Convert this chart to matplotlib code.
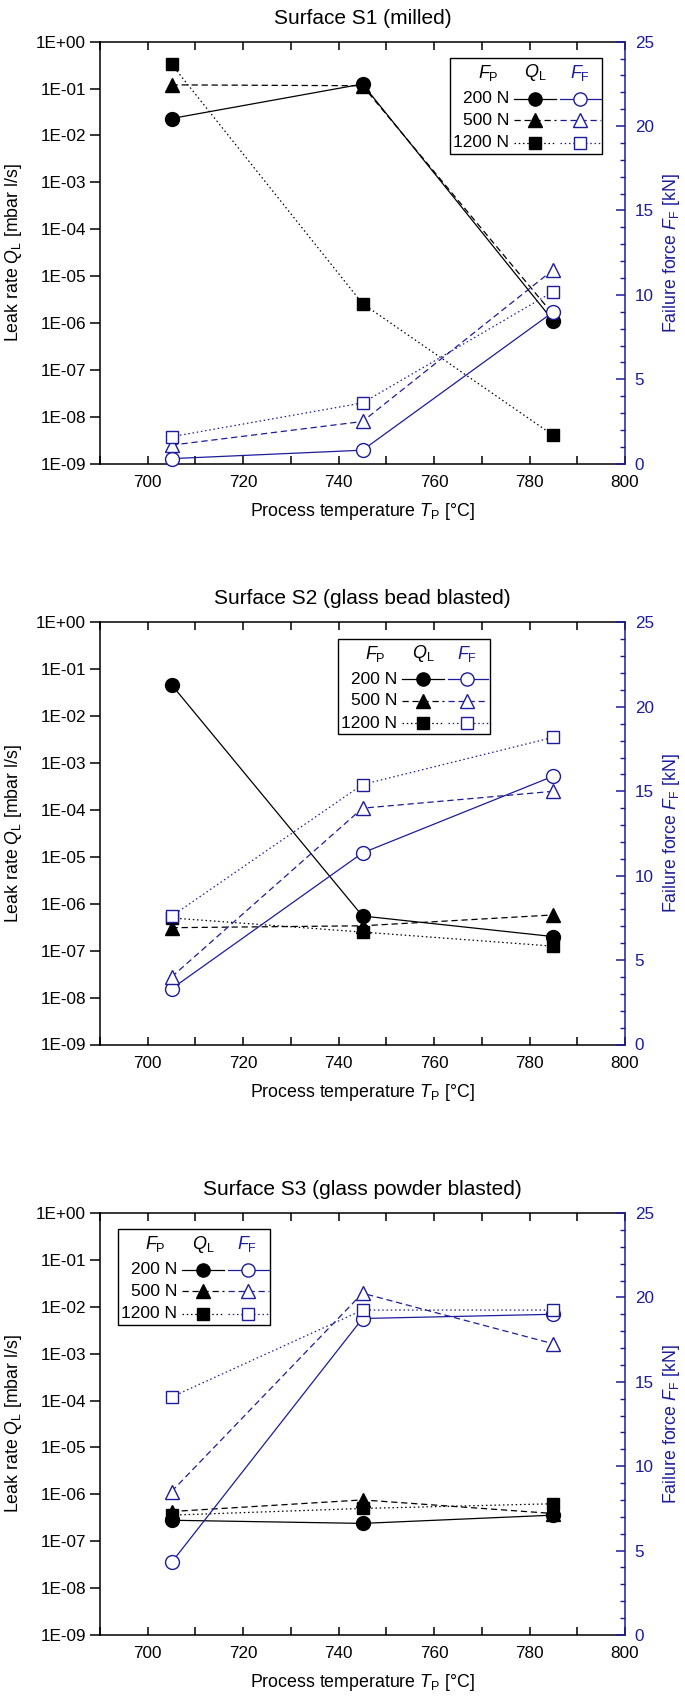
import numpy as np
import matplotlib
matplotlib.use("Agg")
import matplotlib.pyplot as plt
from matplotlib.lines import Line2D
from matplotlib.patches import Rectangle
from matplotlib.ticker import FixedLocator, MultipleLocator, FuncFormatter

plt.rcParams['font.family'] = ['Liberation Sans', 'DejaVu Sans']
plt.rcParams['mathtext.fontset'] = 'custom'
plt.rcParams['mathtext.rm'] = 'Liberation Sans'
plt.rcParams['mathtext.it'] = 'Liberation Sans:italic'
plt.rcParams['mathtext.bf'] = 'Liberation Sans:bold'

BLUE = '#1c1c9c'

temps = [705, 745, 785]
forces = ['200 N', '500 N', '1200 N']
titles = ['Surface S1 (milled)', 'Surface S2 (glass bead blasted)',
          'Surface S3 (glass powder blasted)']

# leak rate Q_L [mbar l/s], rows = 200 N, 500 N, 1200 N
leak_s1 = [[2.3e-2, 1.25e-1, 1.1e-6],
           [1.2e-1, 1.15e-1, 1.5e-6],
           [3.3e-1, 2.6e-6, 4.0e-9]]
leak_s2 = [[4.7e-2, 5.5e-7, 2.0e-7],
           [3.1e-7, 3.4e-7, 5.8e-7],
           [5.0e-7, 2.5e-7, 1.25e-7]]
leak_s3 = [[2.8e-7, 2.4e-7, 3.6e-7],
           [4.3e-7, 7.6e-7, 3.9e-7],
           [3.6e-7, 5.0e-7, 6.3e-7]]

# failure force F_F [kN]
fail_s1 = [[0.3, 0.8, 9.0],
           [1.1, 2.5, 11.5],
           [1.6, 3.6, 10.2]]
fail_s2 = [[3.3, 11.35, 15.9],
           [4.0, 14.0, 15.0],
           [7.6, 15.4, 18.2]]
fail_s3 = [[4.3, 18.75, 19.0],
           [8.5, 20.25, 17.25],
           [14.1, 19.25, 19.25]]

leak = [leak_s1, leak_s2, leak_s3]
fail = [fail_s1, fail_s2, fail_s3]
legend_left = [0.667, 0.453, 0.034]

markers = ['o', '^', 's']
styles = ['-', (0, (5, 3)), (0, (1.2, 2.2))]
msize = [10, 10, 9]

W, H = 685, 1701
fig = plt.figure(figsize=(W / 100, H / 100), dpi=100)
tops = [41.7, 622.5, 1213]
ax_h = 422


def draw_legend(ax, x0):
    top = 0.962
    tr = ax.transAxes
    ax.add_patch(Rectangle((x0, top - 0.227), 0.29, 0.227, transform=tr,
                           fill=False, edgecolor='black', lw=1.0, zorder=5,
                           clip_on=False))
    hy = top - 0.036
    ax.text(x0 + 0.072, hy, r'$F_\mathrm{P}$', transform=tr, ha='center',
            va='center', fontsize=13, zorder=6)
    ax.text(x0 + 0.162, hy, r'$Q_\mathrm{L}$', transform=tr, ha='center',
            va='center', fontsize=13, zorder=6)
    ax.text(x0 + 0.247, hy, r'$F_\mathrm{F}$', transform=tr, ha='center',
            va='center', fontsize=13, color=BLUE, zorder=6)
    for i, lab in enumerate(forces):
        y = top - [0.097, 0.148, 0.201][i]
        ax.text(x0 + 0.113, y, lab, transform=tr, ha='right', va='center',
                fontsize=12.5, zorder=6)
        ax.add_line(Line2D([x0 + 0.122, x0 + 0.202], [y, y], transform=tr,
                           color='black', ls=styles[i], lw=0.9, zorder=6))
        ax.add_line(Line2D([x0 + 0.162], [y], transform=tr, color='black',
                           marker=markers[i], ms=msize[i] * 0.95, zorder=7))
        ax.add_line(Line2D([x0 + 0.21, x0 + 0.287], [y, y], transform=tr,
                           color=BLUE, ls=styles[i], lw=0.9, zorder=6))
        ax.add_line(Line2D([x0 + 0.247], [y], transform=tr, color=BLUE,
                           marker=markers[i], ms=msize[i] * 0.95,
                           mfc='white', zorder=7))


for p in range(3):
    bottom = 1 - (tops[p] + ax_h) / H
    ax = fig.add_axes([100 / W, bottom, 525 / W, ax_h / H])
    ax2 = ax.twinx()

    for i in range(3):
        ax.plot(temps, leak[p][i], color='black', ls=styles[i], lw=0.9,
                marker=markers[i], ms=msize[i], clip_on=False)
    for i in range(3):
        ax2.plot(temps, fail[p][i], color=BLUE, ls=styles[i], lw=0.9,
                 marker=markers[i], ms=msize[i], mfc='white', mec=BLUE,
                 mew=1.0, clip_on=False)

    ax.set_yscale('log')
    ax.set_ylim(1e-9, 1)
    ax.set_xlim(690, 800)
    ax.yaxis.set_major_locator(FixedLocator([10.0 ** k for k in range(-9, 1)]))
    ax.yaxis.set_minor_locator(FixedLocator([]))
    ax.yaxis.set_major_formatter(
        FuncFormatter(lambda v, pos: '1E%+03d' % int(round(np.log10(v)))))
    ax.xaxis.set_major_locator(MultipleLocator(20))
    ax.xaxis.set_minor_locator(MultipleLocator(10))
    ax.tick_params(axis='y', which='major', direction='out', length=7,
                   width=1.1, labelsize=12.3, pad=3)
    ax.tick_params(axis='x', which='both', direction='in', length=6,
                   width=1.1, top=True, labelsize=12.3, pad=8)
    for s in ['left', 'top', 'bottom']:
        ax.spines[s].set_linewidth(1.1)
    ax.spines['right'].set_visible(False)

    ax2.set_ylim(0, 25)
    ax2.yaxis.set_major_locator(MultipleLocator(5))
    ax2.yaxis.set_minor_locator(MultipleLocator(1))
    ax2.tick_params(axis='y', which='major', direction='in', length=6.5,
                    width=1.1, colors=BLUE, labelsize=12.3, pad=7)
    ax2.tick_params(axis='y', which='minor', direction='in', length=3.6,
                    width=1.0, colors=BLUE)
    ax2.spines['right'].set_color(BLUE)
    ax2.spines['right'].set_linewidth(1.1)
    for s in ['left', 'top', 'bottom']:
        ax2.spines[s].set_visible(False)

    ax.set_title(titles[p], fontsize=15, pad=13)
    ax.set_ylabel(r'Leak rate $Q_\mathrm{L}$ [mbar l/s]', fontsize=12.8,
                  labelpad=9)
    ax.set_xlabel(r'Process temperature $T_\mathrm{P}$ [°C]', fontsize=12.8,
                  labelpad=8)
    ax2.set_ylabel(r'Failure force $F_\mathrm{F}$ [kN]', fontsize=12.8,
                   color=BLUE, labelpad=5)

    draw_legend(ax, legend_left[p])

fig.savefig('out.png', dpi=100)
